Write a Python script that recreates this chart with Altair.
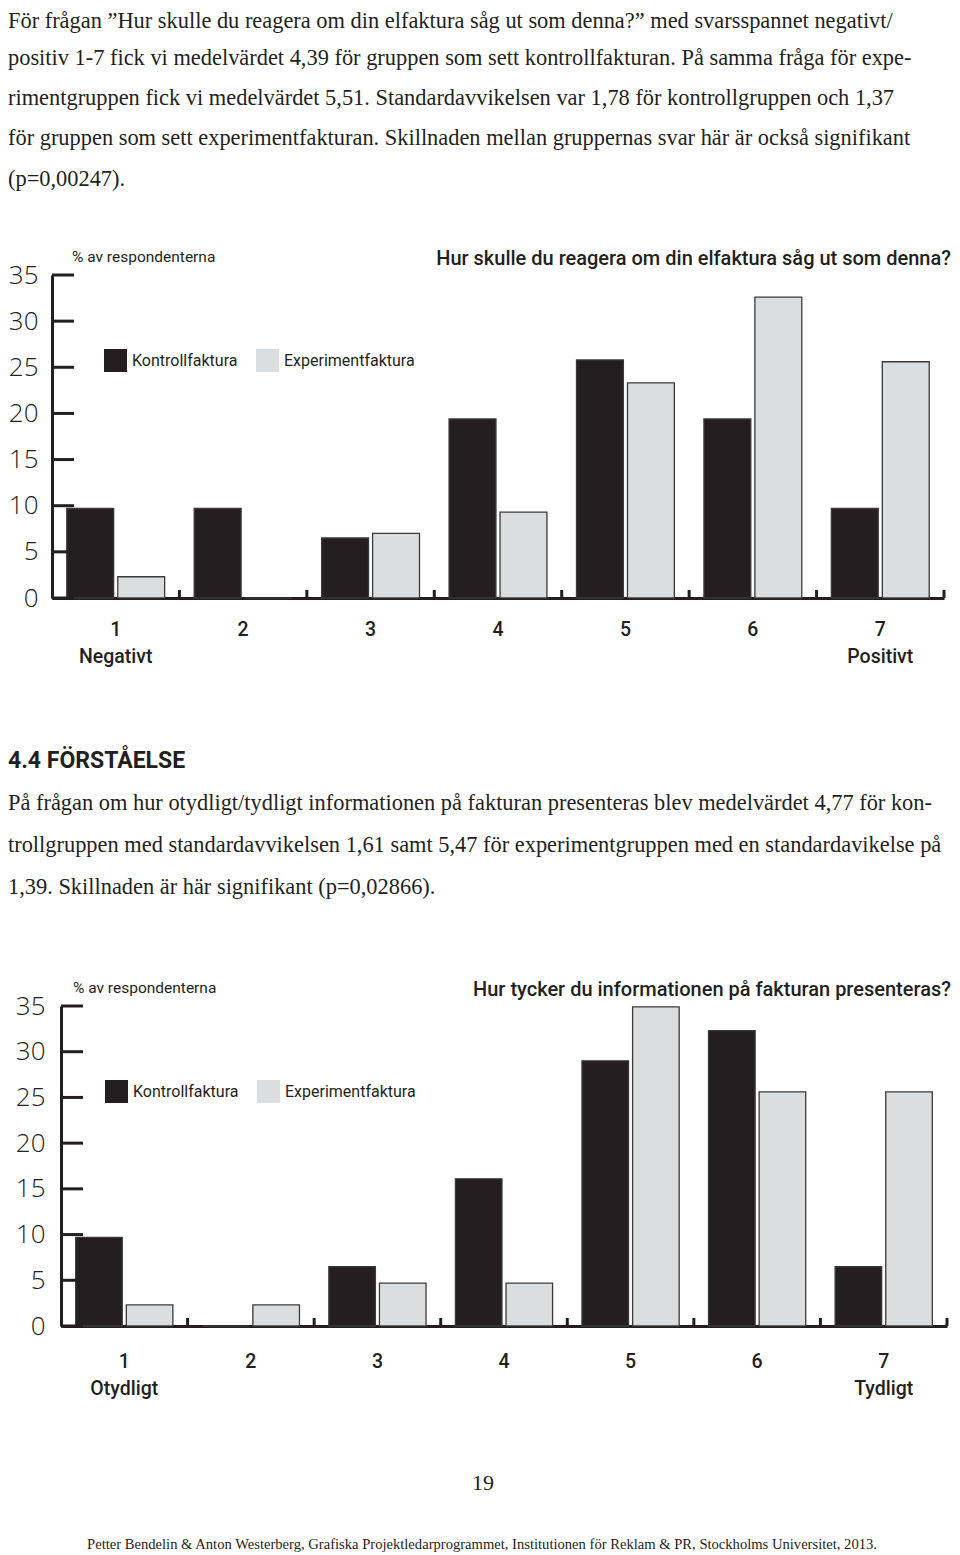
import altair as alt
import pandas as pd

# ---------------- data ----------------
categories = ["1", "2", "3", "4", "5", "6", "7"]
groups = ["Kontrollfaktura", "Experimentfaktura"]

q1_kontroll = [9.7, 9.7, 6.5, 19.4, 25.8, 19.4, 9.7]
q1_experiment = [2.3, 0.0, 7.0, 9.3, 23.3, 32.6, 25.6]
q2_kontroll = [9.7, 0.0, 6.5, 16.1, 29.0, 32.3, 6.5]
q2_experiment = [2.3, 2.3, 4.7, 4.7, 34.9, 25.6, 25.6]

y_ticks = [0, 5, 10, 15, 20, 25, 30, 35]
y_label = "% av respondenterna"
q1_title = "Hur skulle du reagera om din elfaktura såg ut som denna?"
q2_title = "Hur tycker du informationen på fakturan presenteras?"
q1_ends = ["Negativt", "Positivt"]
q2_ends = ["Otydligt", "Tydligt"]

para1 = [
    "För frågan ”Hur skulle du reagera om din elfaktura såg ut som denna?” med svarsspannet negativt/",
    "positiv 1-7 fick vi medelvärdet 4,39 för gruppen som sett kontrollfakturan. På samma fråga för expe-",
    "rimentgruppen fick vi medelvärdet 5,51. Standardavvikelsen var 1,78 för kontrollgruppen och 1,37",
    "för gruppen som sett experimentfakturan. Skillnaden mellan gruppernas svar här är också signifikant",
    "(p=0,00247).",
]
heading = "4.4 FÖRSTÅELSE"
para2 = [
    "På frågan om hur otydligt/tydligt informationen på fakturan presenteras blev medelvärdet 4,77 för kon-",
    "trollgruppen med standardavvikelsen 1,61 samt 5,47 för experimentgruppen med en standardavikelse på",
    "1,39. Skillnaden är här signifikant (p=0,02866).",
]
page_number = "19"
footer = ("Petter Bendelin & Anton Westerberg, Grafiska Projektledarprogrammet, "
          "Institutionen för Reklam & PR, Stockholms Universitet, 2013.")

# ---------------- styles ----------------
INK = "#231f20"
LIGHT = "#dcdddf"
SERIF = "Liberation Serif"
SANS = "Roboto"
NUM = "Open Sans"
W, H = 944, 1545
BODY = 22.4


def text_layer(txt, x, y, size, font=SERIF, weight="normal", align="left", baseline="alphabetic"):
    return alt.Chart(pd.DataFrame({"t": [txt]})).mark_text(
        align=align, baseline=baseline, font=font, fontSize=size, fontWeight=weight, color=INK
    ).encode(x=alt.value(x), y=alt.value(y), text="t:N")


def bar_chart(kontroll, experiment, ends, x0, x1, y0, y1, legend_xy, label_pad_y, label_pad_x):
    df = pd.DataFrame({
        "cat": categories * 2,
        "grp": [groups[0]] * 7 + [groups[1]] * 7,
        "val": kontroll + experiment,
    })
    label_expr = (
        f"datum.value == '1' ? ['1', '{ends[0]}'] : "
        f"datum.value == '7' ? ['7', '{ends[1]}'] : datum.value"
    )
    xscale = alt.Scale(domain=categories, range=[x0, x1], paddingInner=0, paddingOuter=0)
    yscale = alt.Scale(domain=[0, 35], range=[y0, y1], nice=False, zero=True)
    xaxis = alt.Axis(orient="bottom", offset=y0 - H, title=None, ticks=False, tickSize=0,
                     domainColor=INK, domainWidth=3, labelAngle=0,
                     labelFont=SANS, labelFontWeight=500, labelFontSize=19.5, labelColor=INK,
                     labelPadding=label_pad_x, labelLineHeight=27, labelBaseline="top",
                     labelOverlap=False, labelFlush=False, labelExpr=label_expr)
    yaxis = alt.Axis(orient="left", offset=-x0, title=None, values=y_ticks, ticks=False,
                     tickSize=0, grid=False, domainColor=INK, domainWidth=3,
                     labelFont=NUM, labelFontSize=26, labelFontWeight=300, labelColor=INK,
                     labelAlign="right", labelBaseline="middle", labelPadding=label_pad_y,
                     labelOverlap=False, labelFlush=False)

    bars = alt.Chart(df).mark_bar(stroke="#3a3a3a", strokeWidth=1.3).encode(
        x=alt.X("cat:N", sort=categories, scale=xscale, axis=xaxis),
        xOffset=alt.XOffset("grp:N", sort=groups,
                            scale=alt.Scale(domain=groups, paddingInner=0.08, paddingOuter=0.29)),
        y=alt.Y("val:Q", scale=yscale, axis=yaxis),
        color=alt.Color("grp:N", sort=groups,
                        scale=alt.Scale(domain=groups, range=[INK, LIGHT]),
                        legend=alt.Legend(orient="none", legendX=legend_xy[0], legendY=legend_xy[1],
                                          direction="horizontal", title=None, symbolType="square",
                                          symbolSize=529, symbolStrokeWidth=0, symbolOpacity=1,
                                          labelFont=SANS, labelFontSize=16, labelColor=INK,
                                          labelOffset=5, columnPadding=18, padding=0)),
    )
    ytick_rules = alt.Chart(pd.DataFrame({"val": y_ticks})).mark_rule(
        color=INK, strokeWidth=3, strokeCap="butt"
    ).encode(
        y=alt.Y("val:Q", scale=yscale, axis=yaxis),
        x=alt.value(x0), x2=alt.value(x0 + 22),
    )
    xtick_rules = alt.Chart(pd.DataFrame({"cat": categories})).mark_rule(
        color=INK, strokeWidth=3, strokeCap="butt"
    ).encode(
        x=alt.X("cat:N", sort=categories, scale=xscale, bandPosition=1, axis=xaxis),
        y=alt.value(y0), y2=alt.value(y0 - 8),
    )
    return alt.layer(bars, ytick_rules, xtick_rules)


chart1 = bar_chart(q1_kontroll, q1_experiment, q1_ends, 44, 936, 590, 267, (96, 341), 14, 22)
chart2 = bar_chart(q2_kontroll, q2_experiment, q2_ends, 53, 939, 1318, 998, (97, 1072), 16, 26)

layers = []
para1_y = [20, 57, 97, 137, 178]
for line, yy in zip(para1, para1_y):
    layers.append(text_layer(line, 0, yy, BODY))
layers.append(text_layer(heading, 0, 760, 23, font=SANS, weight="bold"))
for i, line in enumerate(para2):
    layers.append(text_layer(line, 0, 802 + 42 * i, BODY))
layers.append(text_layer(page_number, 475, 1482, 22, align="center"))
layers.append(text_layer(footer, 474, 1541, 14.6, align="center"))

layers.append(text_layer(y_label, 64, 249, 15.5, font=SANS, baseline="middle"))
layers.append(text_layer(q1_title, 943, 251, 20, font=SANS, weight=500, align="right", baseline="middle"))
layers.append(text_layer(y_label, 65, 980, 15.5, font=SANS, baseline="middle"))
layers.append(text_layer(q2_title, 943, 982, 20, font=SANS, weight=500, align="right", baseline="middle"))

chart = alt.layer(*layers, chart1, chart2).resolve_scale(
    x="independent", y="independent", color="independent", xOffset="independent"
).resolve_axis(x="independent", y="independent").resolve_legend(color="independent").properties(
    width=W, height=H, padding=0, autosize=alt.AutoSizeParams(type="none")
).configure_view(stroke=None)

chart.save("out.html", embed_options={"renderer": "svg", "actions": False})
